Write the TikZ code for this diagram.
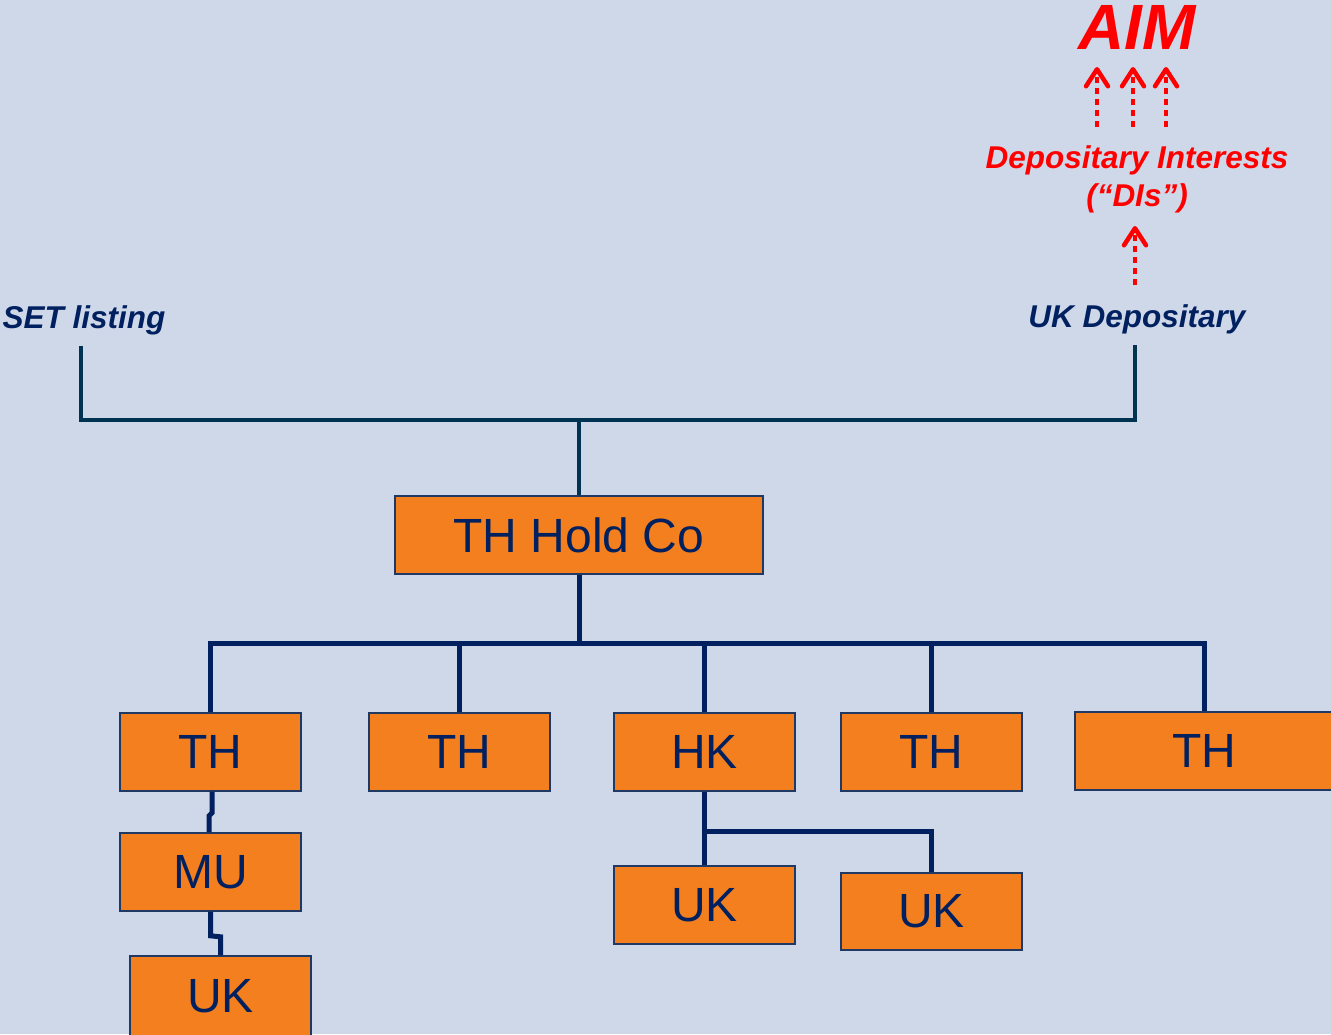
\documentclass[tikz,border=0pt]{standalone}
\usepackage{fontspec}
\setmainfont{Liberation Sans}
\usetikzlibrary{arrows.meta}
\definecolor{bg}{RGB}{207,216,233}
\definecolor{boxor}{RGB}{244,127,30}
\definecolor{navy}{RGB}{0,32,96}
\definecolor{teal}{RGB}{0,51,82}
\definecolor{edge}{RGB}{31,56,100}
\definecolor{red}{RGB}{255,0,0}
\tikzset{
  entity/.style={draw=edge, line width=1.6pt, fill=boxor, text=navy, inner sep=0pt,
    font=\fontsize{48}{56}\selectfont, minimum width=181pt, minimum height=78pt},
  lbl/.style={text=navy, font=\fontsize{31.5}{36}\selectfont\bfseries\itshape, inner sep=0pt},
  redlbl/.style={text=red, font=\fontsize{31.5}{38}\selectfont\bfseries\itshape, inner sep=0pt, align=center},
  upline/.style={draw=teal, line width=4pt, line join=miter},
  lowline/.style={draw=navy, line width=5pt, line join=miter},
  diarrow/.style={draw=red, line width=3.5pt, dash pattern=on 6pt off 5pt,
    -{Straight Barb[length=17pt, width=22pt, line width=4.5pt, round]}}
}
\begin{document}
\begin{tikzpicture}[x=1pt, y=-1pt]
\useasboundingbox (0,0) rectangle (1331,1034);
\fill[bg] (0,0) rectangle (1331,1034);

% labels
\node[lbl] (set) at (84,320) {SET listing};
\node[lbl] (dep) at (1137,319) {UK Depositary};
\node[redlbl] (di) at (1137,179) {Depositary Interests\\(“DIs”)};
\node[text=red, font=\fontsize{64}{70}\selectfont\bfseries\itshape, inner sep=0pt] (aim) at (1137,27) {AIM};

% boxes
\node[entity, minimum width=368pt] (hold) at (579,535) {TH Hold Co};
\node[entity] (th1) at (210.5,752) {TH};
\node[entity] (th2) at (459.5,752) {TH};
\node[entity] (hk)  at (704.5,752) {HK};
\node[entity] (th4) at (931.5,752) {TH};
\node[entity, minimum width=258pt] (th5) at (1204,751) {TH};
\node[entity] (mu)  at (210.5,872) {MU};
\node[entity, minimum height=80pt] (uk1) at (220.5,996) {UK};
\node[entity] (uk2) at (704.5,905) {UK};
\node[entity, minimum height=77pt] (uk3) at (931.5,911.5) {UK};

% upper connectors
\coordinate (setb) at (81,346);
\coordinate (depb) at (1135,345);
\coordinate (j1) at (579,420);
\draw[upline] (setb) |- (j1) -- (hold.north);
\draw[upline] (depb) |- (j1);

% lower connectors
\coordinate (j2) at (579,643);
\draw[lowline] (hold.south) -- (j2);
\draw[lowline] (th1.north) -- (th1.north |- j2) -- (th5.north |- j2) -- (th5.north);
\draw[lowline] (th2.north) -- (th2.north |- j2);
\draw[lowline] (hk.north) -- (hk.north |- j2);
\draw[lowline] (th4.north) -- (th4.north |- j2);

% TH -> MU -> UK chain
\draw[lowline] ([xshift=1.5]th1.south) -- ++(0,21) -- ++(-3,3) -- ([xshift=-1.5]mu.north);
\draw[lowline] (mu.south) -- ++(0,24) -- ++(10,1) -- (uk1.north);

% HK -> UKs
\coordinate (j3) at (704.5,831);
\draw[lowline] (hk.south) -- (j3) -| (uk3.north);
\draw[lowline] (j3) -- (uk2.north);

% DI arrows
\coordinate (a1s) at (1097,127);
\coordinate (a1e) at (1097,67);
\coordinate (a2s) at (1133,127);
\coordinate (a2e) at (1133,67);
\coordinate (a3s) at (1166,127);
\coordinate (a3e) at (1166,67);
\coordinate (a4s) at (1135,285);
\coordinate (a4e) at (1135,226);
\draw[diarrow] (a1s) -- (a1e);
\draw[diarrow] (a2s) -- (a2e);
\draw[diarrow] (a3s) -- (a3e);
\draw[diarrow] (a4s) -- (a4e);
\end{tikzpicture}
\end{document}
